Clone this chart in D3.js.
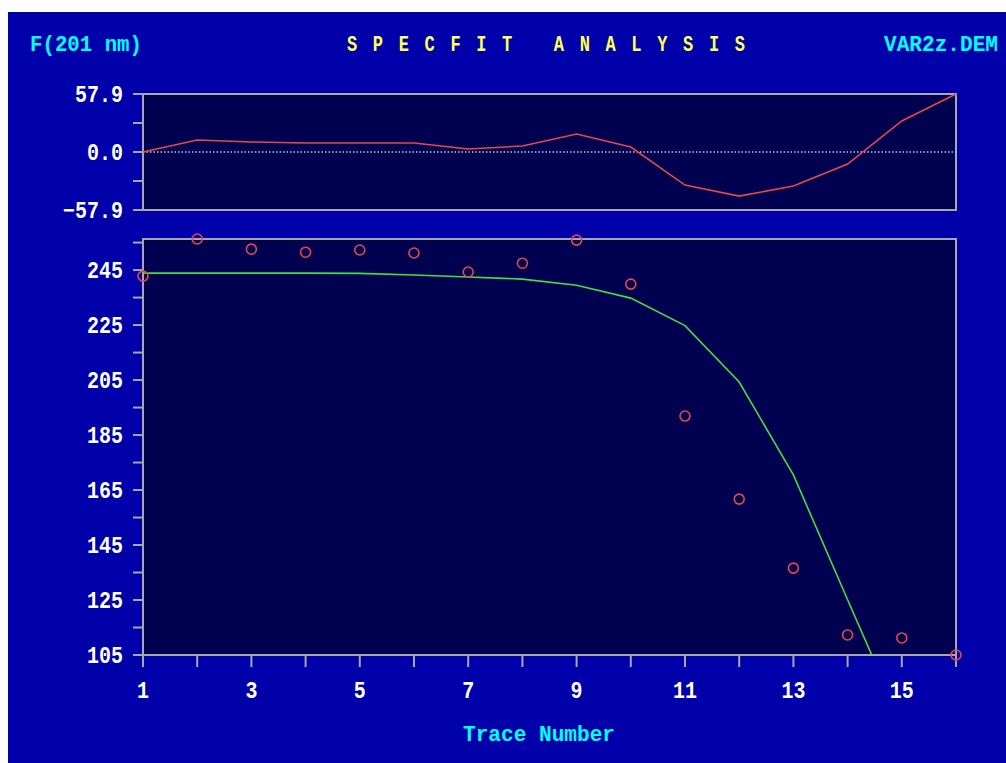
<!DOCTYPE html>
<html>
<head>
<meta charset="utf-8">
<script src="https://cdn.jsdelivr.net/npm/d3@7"></script>
<style>
  html, body { margin: 0; padding: 0; background: #fff; }
  svg { display: block; }
  text { font-family: "Liberation Mono", "DejaVu Sans Mono", monospace; font-weight: bold; white-space: pre; }
</style>
</head>
<body>
<div id="chart"></div>
<script>
// data
const traces    = d3.range(1, 17);
const observed  = [242.8, 256.3, 252.6, 251.5, 252.3, 251.2, 244.3, 247.5, 255.9, 239.9, 191.9, 161.7, 136.6, 112.3, 111.2, 105.0];
const fitted    = [243.9, 243.9, 243.9, 243.9, 243.8, 243.2, 242.5, 241.7, 239.5, 234.8, 224.8, 204.3, 170.5, 125.1, 80.0, 47.1];
const residuals = [0, 12, 10, 9, 9, 9, 3, 6, 18, 5, -33, -44, -34, -12, 31, 57.9];
const xTicks    = [1, 3, 5, 7, 9, 11, 13, 15];
const yTicksMain = [105, 125, 145, 165, 185, 205, 225, 245];
const yTicksResid = [-57.9, 0, 57.9];

const W = 1006, H = 763;
const left = 143, right = 956;
const topPanel = [94, 210];
const mainPanel = [239, 655];

const blue = "#0000aa", plotBg = "#000050", grey = "#a8a8a8";

const svg = d3.select("#chart").append("svg")
  .attr("width", W).attr("height", H);

svg.append("rect").attr("x", 8).attr("y", 12)
  .attr("width", W - 8).attr("height", H - 12).attr("fill", blue);

const x = d3.scaleLinear().domain([1, 16]).range([left, right]);
const yR = d3.scaleLinear().domain([-57.9, 57.9]).range([topPanel[1], topPanel[0]]);
const yM = d3.scaleLinear().domain([105, 256.3]).range([mainPanel[1], mainPanel[0]]);

// tall, narrow text like the old VGA font
function label(g, tx, ty, str, opts) {
  const t = g.append("text")
    .attr("transform", `translate(${tx},${ty}) scale(1,${opts.sy || 1.25})`)
    .attr("fill", opts.fill).attr("font-size", opts.size)
    .attr("text-anchor", opts.anchor || "start")
    .text(str);
  if (opts.len) t.attr("textLength", opts.len).attr("lengthAdjust", opts.adj || "spacingAndGlyphs");
  return t;
}

// header texts
label(svg, 30, 51, "F(201 nm)", { fill: "#00ffff", size: 17, len: 112 });
label(svg, 347, 51, "S P E C F I T   A N A L Y S I S", { fill: "#ffff55", size: 17, len: 398, adj: "spacing" });
label(svg, 884, 51, "VAR2z.DEM", { fill: "#00ffff", size: 17, len: 114 });

// panel backgrounds
[topPanel, mainPanel].forEach(p => {
  svg.append("rect").attr("x", left).attr("y", p[0])
    .attr("width", right - left).attr("height", p[1] - p[0])
    .attr("fill", plotBg).attr("stroke", grey).attr("stroke-width", 2);
});

// y axes
function yAxis(scale, major, minor, fmt) {
  const g = svg.append("g");
  g.selectAll("line").data(minor.concat(major)).join("line")
    .attr("x1", left - 10).attr("x2", left)
    .attr("y1", d => scale(d)).attr("y2", d => scale(d))
    .attr("stroke", grey).attr("stroke-width", 2);
  major.forEach(d => label(g, left - 20, scale(d) + 7.5, fmt(d),
    { fill: "#fff", size: 20, anchor: "end", sy: 1.2 }));
}
yAxis(yR, yTicksResid, [-28.95, 28.95], d => d3.format(".1f")(d).replace("-", "\u2212"));
yAxis(yM, yTicksMain, d3.range(115, 256, 20), d => String(d));

// x axis ticks
svg.append("g").selectAll("line").data(traces).join("line")
  .attr("x1", d => x(d)).attr("x2", d => x(d))
  .attr("y1", mainPanel[1]).attr("y2", mainPanel[1] + 12)
  .attr("stroke", grey).attr("stroke-width", 2);
const gx = svg.append("g");
xTicks.forEach(d => label(gx, x(d), 698, String(d),
  { fill: "#fff", size: 20, anchor: "middle", sy: 1.2 }));
label(svg, 463, 741, "Trace Number", { fill: "#00ffff", size: 19, sy: 1.2, len: 152 });

// zero line in residual panel
svg.append("line").attr("x1", left).attr("x2", right)
  .attr("y1", yR(0)).attr("y2", yR(0))
  .attr("stroke", "#c8c8c8").attr("stroke-width", 1.5).attr("stroke-dasharray", "1.5,2");

// residual line
svg.append("path").datum(traces)
  .attr("fill", "none").attr("stroke", "#e84848").attr("stroke-width", 1.6)
  .attr("d", d3.line().x(d => x(d)).y((d, i) => yR(residuals[i])));

// fitted curve, clipped to main panel
svg.append("clipPath").attr("id", "clipMain").append("rect")
  .attr("x", left).attr("y", mainPanel[0])
  .attr("width", right - left).attr("height", mainPanel[1] - mainPanel[0]);
svg.append("path").datum(traces)
  .attr("clip-path", "url(#clipMain)")
  .attr("fill", "none").attr("stroke", "#40e040").attr("stroke-width", 1.6)
  .attr("d", d3.line().x(d => x(d)).y((d, i) => yM(fitted[i])));

// observed points
svg.append("g").selectAll("circle").data(traces).join("circle")
  .attr("cx", d => x(d)).attr("cy", (d, i) => yM(observed[i]))
  .attr("r", 5).attr("fill", "none").attr("stroke", "#e84848").attr("stroke-width", 1.6);
</script>
</body>
</html>
